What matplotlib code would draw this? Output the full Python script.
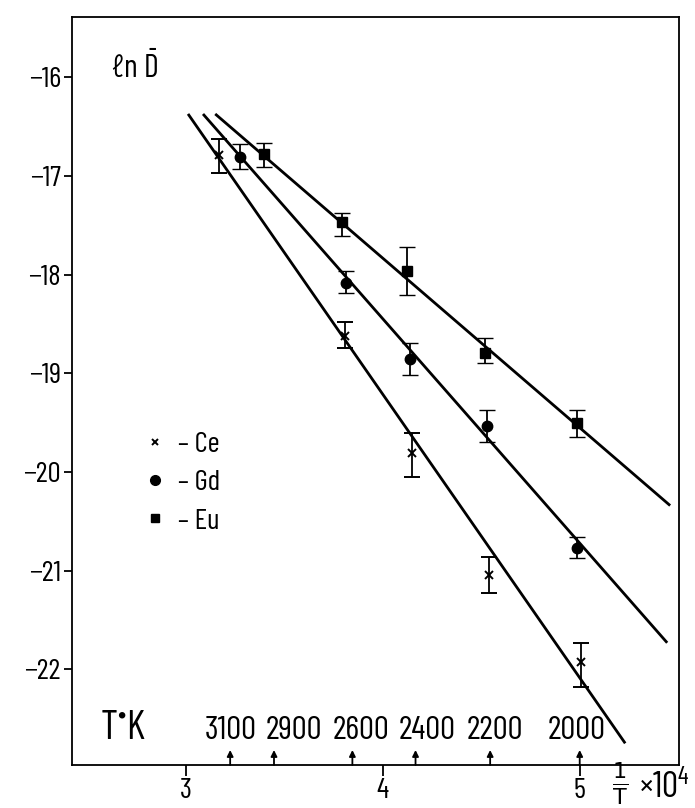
import numpy as np
import matplotlib
matplotlib.use("Agg")
import matplotlib.pyplot as plt
from matplotlib.lines import Line2D
from matplotlib import font_manager as fm

# ---------------- data ----------------
ce_x = [3.169, 3.808, 4.149, 4.540, 5.007]
ce_y = [-16.79, -18.62, -19.81, -21.04, -21.93]
ce_lo = [0.18, 0.12, 0.24, 0.19, 0.25]
ce_hi = [0.17, 0.14, 0.21, 0.18, 0.20]

gd_x = [3.276, 3.814, 4.139, 4.529, 4.988]
gd_y = [-16.81, -18.08, -18.85, -19.53, -20.77]
gd_lo = [0.12, 0.10, 0.17, 0.16, 0.10]
gd_hi = [0.14, 0.12, 0.16, 0.16, 0.11]

eu_x = [3.397, 3.793, 4.123, 4.519, 4.986]
eu_y = [-16.78, -17.46, -17.96, -18.79, -19.50]
eu_lo = [0.13, 0.15, 0.24, 0.10, 0.14]
eu_hi = [0.12, 0.09, 0.24, 0.15, 0.13]

# fitted straight lines  ln D = a + b * (1e4/T)
fit_slope = [-2.875, -2.275, -1.719]
fit_icept = [-7.71, -9.345, -10.955]
fit_xstart = [3.012, 3.088, 3.150]
fit_xend = [5.231, 5.444, 5.459]

elements = ["Ce", "Gd", "Eu"]
x_ticks = [3, 4, 5]
y_ticks = [-16, -17, -18, -19, -20, -21, -22]
temps_K = [3100, 2900, 2600, 2400, 2200, 2000]

# ---------------- style ----------------
available = {f.name for f in fm.fontManager.ttflist}
prefs = ["Barlow Condensed", "Roboto Condensed", "Archivo Narrow", "PT Sans Narrow",
         "Liberation Sans Narrow", "Barlow Semi Condensed", "Abel"]
FONT = [f for f in prefs if f in available][:1] + ["DejaVu Sans"]
MAIN = FONT[0]
plt.rcParams["font.family"] = FONT
plt.rcParams["font.weight"] = "normal"
plt.rcParams["mathtext.fontset"] = "custom"
plt.rcParams["mathtext.rm"] = MAIN
plt.rcParams["mathtext.it"] = MAIN
plt.rcParams["mathtext.bf"] = MAIN + ":bold"

W, H = 695, 808
fig = plt.figure(figsize=(W / 100, H / 100), dpi=100)
L, R, T, B = 72, 679, 17, 765
ax = fig.add_axes([L / W, 1 - B / H, (R - L) / W, (B - T) / H])
ax.set_xlim(2.423, 5.504)
ax.set_ylim(-22.969, -15.387)

for s in ax.spines.values():
    s.set_linewidth(1.3)

# fitted lines
for a, b, x0, x1 in zip(fit_icept, fit_slope, fit_xstart, fit_xend):
    xs = np.array([x0, x1])
    ax.plot(xs, a + b * xs, color="black", lw=2.0, solid_capstyle="butt", zorder=2)

# data with error bars
series = [
    (ce_x, ce_y, ce_lo, ce_hi, "x", 5.5, 1.4),
    (gd_x, gd_y, gd_lo, gd_hi, "o", 7.5, 1.0),
    (eu_x, eu_y, eu_lo, eu_hi, "s", 7.0, 1.0),
]
for x, y, lo, hi, m, ms, mew in series:
    ax.errorbar(x, y, yerr=[lo, hi], fmt=m, ms=ms, mew=mew, color="black",
                ecolor="black", elinewidth=1.3, capsize=5.5, capthick=2.0, zorder=3)

# ticks
ax.set_xticks(x_ticks)
ax.set_xticklabels([str(v) for v in x_ticks])
ax.set_yticks(y_ticks)
ax.set_yticklabels(["\u2212" + str(abs(v)) for v in y_ticks])
ax.tick_params(axis="x", direction="out", length=8, width=1.3, pad=1, labelsize=21)
ax.tick_params(axis="y", direction="out", length=6, width=1.3, pad=2, labelsize=21)

# temperature scale arrows on the bottom axis
label_dx = [1, 20, 9, 12, 5, -3]  # px offsets of the hand-lettered labels
arrow_h = 15 / (B - T)
for tK, dx in zip(temps_K, label_dx):
    xv = 1e4 / tK
    ax.annotate("", xy=(xv, arrow_h), xytext=(xv, 0.0),
                xycoords=("data", "axes fraction"), textcoords=("data", "axes fraction"),
                arrowprops=dict(arrowstyle="-|>", lw=1.3, color="black",
                                mutation_scale=9, shrinkA=0, shrinkB=0))
    ax.annotate(str(tK), xy=(xv, 19 / (B - T)), xycoords=("data", "axes fraction"),
                xytext=(dx * 0.72, 0), textcoords="offset points",
                ha="center", va="bottom", fontsize=24)

ax.text((100 - L) / (R - L), (B - 747) / (B - T), r"T$^{\bullet}$K", transform=ax.transAxes,
        ha="left", va="bottom", fontsize=29)

# axis labels
ax.text((110 - L) / (R - L), (B - 78) / (B - T), r"ℓn $\bar{\mathrm{D}}$",
        transform=ax.transAxes, ha="left", va="baseline", fontsize=23)
fig.text(612 / W, 1 - 784 / H, r"$\frac{1}{\mathrm{T}}$", ha="left", va="center",
         fontsize=23, math_fontfamily="dejavusans")
fig.text(639 / W, 1 - 787 / H, "\u00d7" + r"10$^{4}$", ha="left", va="center",
         fontsize=26)

# legend
handles = [
    Line2D([], [], ls="none", marker="x", ms=5, mew=1.4, color="black"),
    Line2D([], [], ls="none", marker="o", ms=7, color="black"),
    Line2D([], [], ls="none", marker="s", ms=6, color="black"),
]
ax.legend(handles, ["\u2013 " + e for e in elements], loc="upper left",
          bbox_to_anchor=((143 - L) / (R - L), (B - 432) / (B - T)),
          frameon=False, fontsize=21, handlelength=0.8, handletextpad=0.4,
          labelspacing=0.4, borderpad=0, borderaxespad=0)

fig.savefig("out.png", dpi=100)
